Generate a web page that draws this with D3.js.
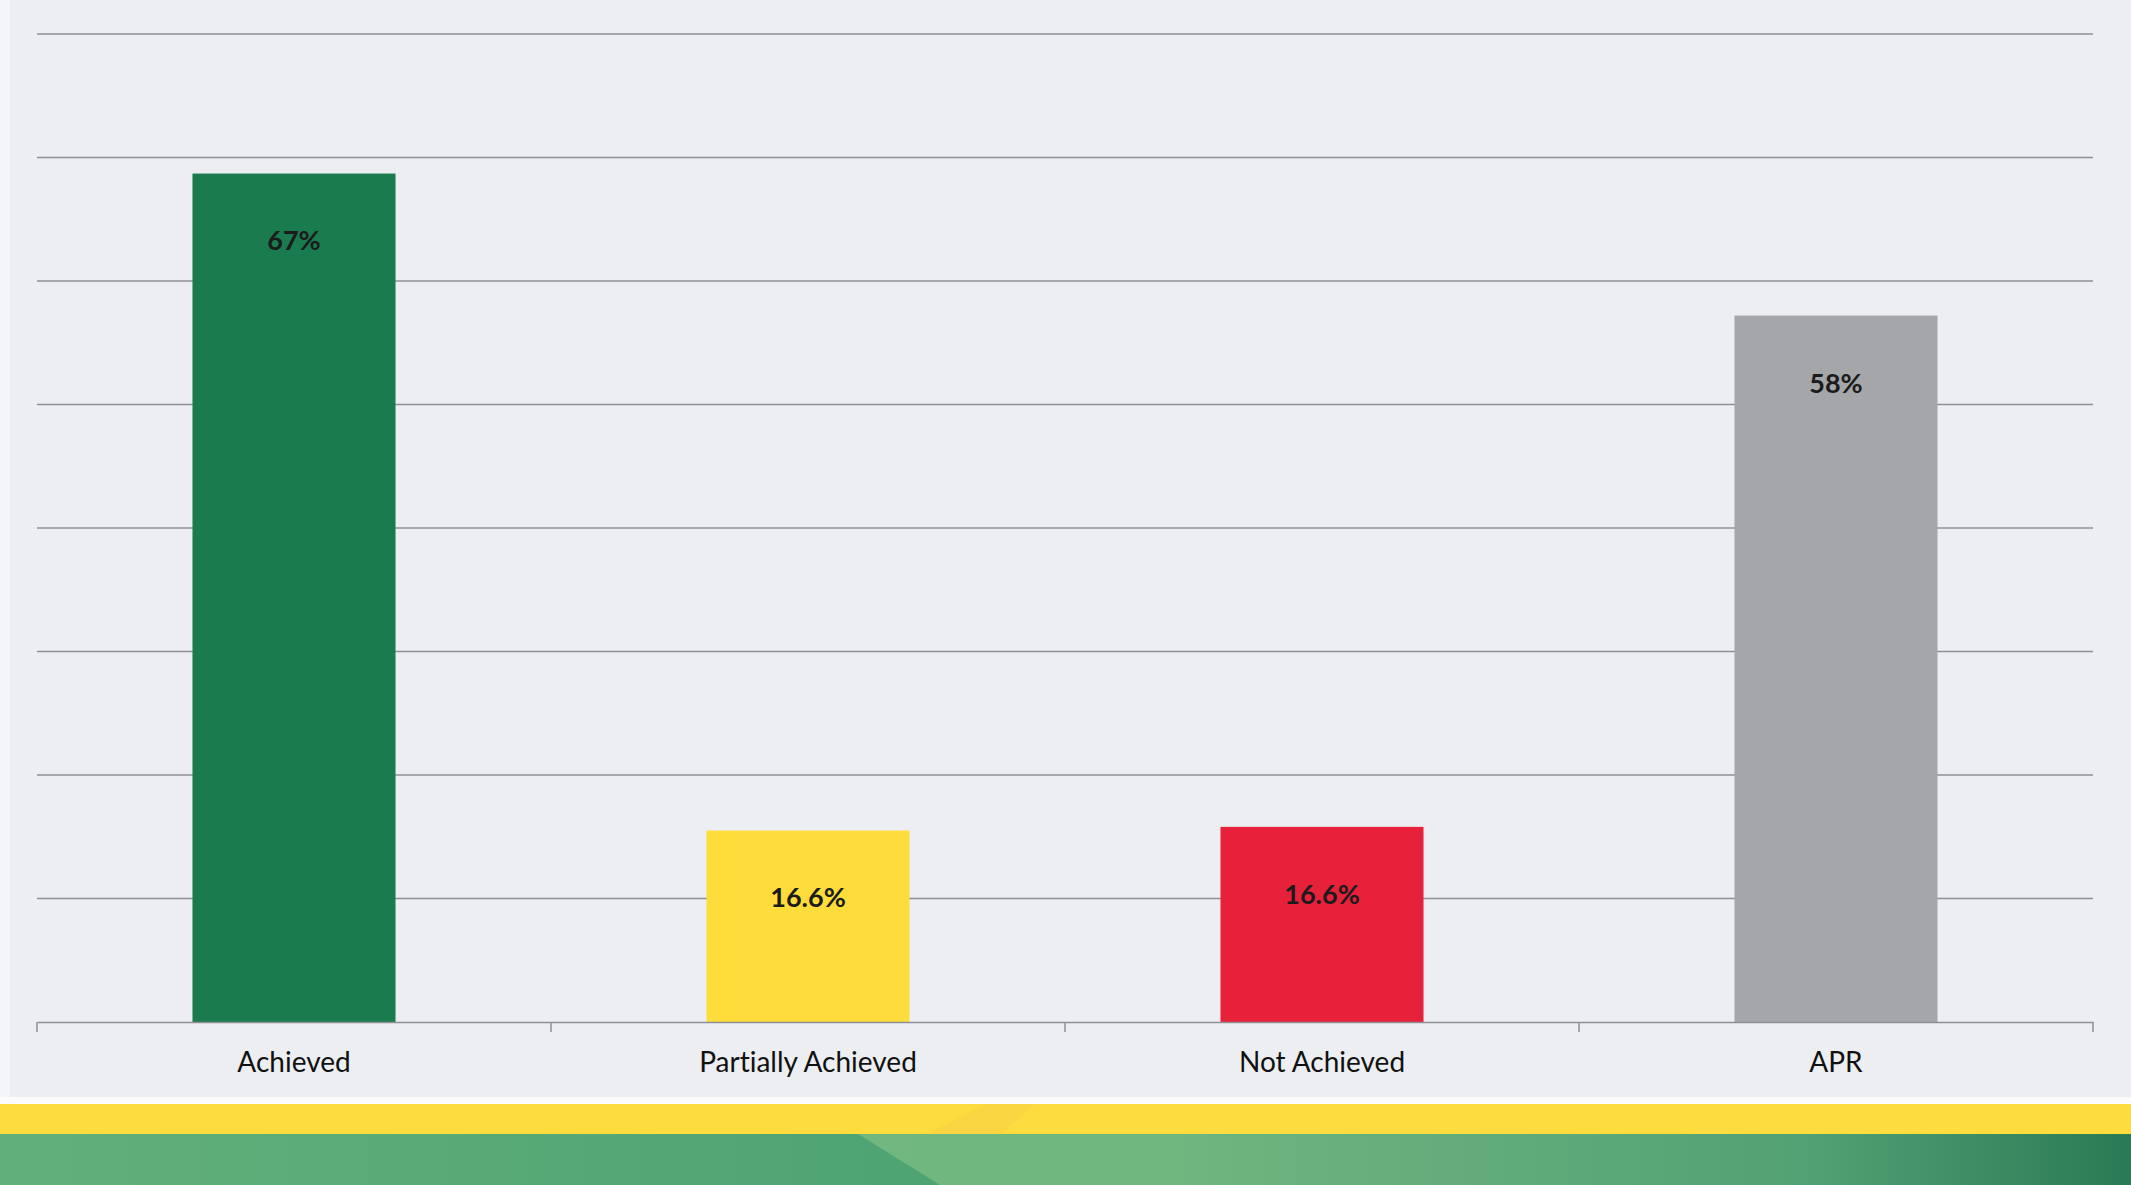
<!DOCTYPE html>
<html>
<head>
<meta charset="utf-8">
<script src="https://cdn.jsdelivr.net/npm/d3@7"></script>
<style>
  html, body { margin: 0; padding: 0; background: #eceef2; overflow: hidden; }
  svg { display: block; }
  text { font-variant-ligatures: none; }
</style>
</head>
<body>
<svg id="chart" width="2131" height="1185"></svg>
<script>
// ---- data ----
const categories = ["Achieved", "Partially Achieved", "Not Achieved", "APR"];
const barValues = [68.7, 15.5, 15.8, 57.2];          // bar heights as drawn in the picture
const valueLabels = ["67%", "16.6%", "16.6%", "58%"]; // data labels as printed
const barColors = ["#1a7b4e", "#fddc3c", "#e8213b", "#a4a6a9"];
const gridTicks = [0, 10, 20, 30, 40, 50, 60, 70, 80];

// ---- layout ----
const W = 2131, H = 1185;
const svg = d3.select("#chart");

const x = d3.scaleBand().domain(categories).range([37, 2093]).padding(0);
const y = d3.scaleLinear().domain([0, 80]).range([1022, 34]);
const barW = x.bandwidth() * 0.395;

// background
svg.append("rect").attr("x", 0).attr("y", 0).attr("width", W).attr("height", H).attr("fill", "#eceef2");
svg.append("rect").attr("x", 0).attr("y", 0).attr("width", 10).attr("height", 1098).attr("fill", "#f4f5f8");

// gridlines
svg.append("g").selectAll("line").data(gridTicks.filter(d => d > 0)).join("line")
  .attr("x1", 37).attr("x2", 2093)
  .attr("y1", d => y(d)).attr("y2", d => y(d))
  .attr("stroke", "#8f9093").attr("stroke-width", 1.5);

// bars
svg.append("g").selectAll("rect").data(categories).join("rect")
  .attr("x", d => x(d) + (x.bandwidth() - barW) / 2)
  .attr("width", barW)
  .attr("y", (d, i) => y(barValues[i]))
  .attr("height", (d, i) => y(0) - y(barValues[i]))
  .attr("fill", (d, i) => barColors[i]);

// category axis
const xAxis = d3.axisBottom(x).tickSize(0).tickFormat(d => d);
const gx = svg.append("g").attr("transform", `translate(0,${y(0)})`).call(xAxis);
gx.select(".domain").attr("stroke", "#8f9093").attr("stroke-width", 1.5);
gx.selectAll(".tick text")
  .attr("dy", "0")
  .attr("y", 50)
  .attr("fill", "#111")
  .style("font-family", "Lato, 'Open Sans', sans-serif")
  .style("font-size", "28px");
// boundary ticks
const bounds = categories.map(c => x(c)).concat([x.range()[1]]);
svg.append("g").selectAll("line").data(bounds).join("line")
  .attr("x1", d => d).attr("x2", d => d)
  .attr("y1", y(0)).attr("y2", y(0) + 10)
  .attr("stroke", "#8f9093").attr("stroke-width", 1.5);

// value labels
svg.append("g").selectAll("text").data(categories).join("text")
  .attr("x", d => x(d) + x.bandwidth() / 2)
  .attr("y", (d, i) => y(barValues[i]) + 70)
  .attr("text-anchor", "middle")
  .attr("dominant-baseline", "middle")
  .attr("fill", "#1b1b1b")
  .style("font-family", "Lato, 'Open Sans', sans-serif")
  .style("font-weight", "700")
  .style("font-size", "27px")
  .text((d, i) => valueLabels[i]);

// ---- decorative footer band ----
const defs = svg.append("defs");
const g1 = defs.append("linearGradient").attr("id", "greenR").attr("x1", "0").attr("x2", "1");
g1.append("stop").attr("offset", "0").attr("stop-color", "#76bb80");
g1.append("stop").attr("offset", "0.55").attr("stop-color", "#6fb67f");
g1.append("stop").attr("offset", "0.85").attr("stop-color", "#52a174");
g1.append("stop").attr("offset", "1").attr("stop-color", "#2a7a55");
const g2 = defs.append("linearGradient").attr("id", "greenL").attr("x1", "0").attr("x2", "1");
g2.append("stop").attr("offset", "0").attr("stop-color", "#62b079");
g2.append("stop").attr("offset", "1").attr("stop-color", "#4ea373");

svg.append("rect").attr("x", 0).attr("y", 1097).attr("width", W).attr("height", 8).attr("fill", "#fbfbfb");
svg.append("rect").attr("x", 0).attr("y", 1104).attr("width", W).attr("height", 31).attr("fill", "#fddc40");
svg.append("path").attr("d", "M925,1135 L985,1104 L1035,1104 L1000,1135 Z").attr("fill", "#f9d445").attr("opacity", 0.6);
svg.append("rect").attr("x", 0).attr("y", 1134).attr("width", W).attr("height", 51).attr("fill", "url(#greenR)");
svg.append("path").attr("d", "M0,1134 L858,1134 L940,1185 L0,1185 Z").attr("fill", "url(#greenL)");
</script>
</body>
</html>
